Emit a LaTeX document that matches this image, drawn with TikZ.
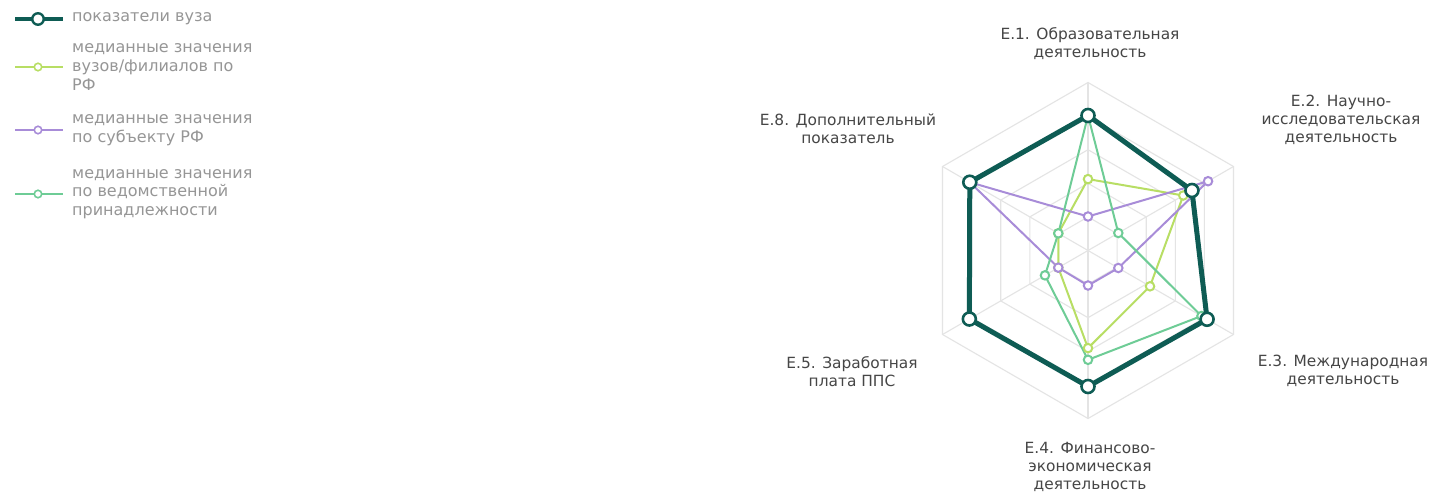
\documentclass[tikz,border=0pt]{standalone}
\usepackage{fontspec}
\setmainfont{DejaVu Sans}
\definecolor{cdark}{RGB}{14,92,84}
\definecolor{clg}{RGB}{184,222,100}
\definecolor{cpur}{RGB}{168,140,216}
\definecolor{cmg}{RGB}{110,204,150}
\definecolor{cgrid}{RGB}{228,228,228}
\definecolor{clab}{RGB}{70,70,70}
\definecolor{cleg}{RGB}{150,150,150}
\tikzset{
  gridline/.style={draw=cgrid, line width=1.1pt},
  sdark/.style={draw=cdark, line width=5pt, line join=round},
  slg/.style={draw=clg, line width=2pt, line join=round},
  spur/.style={draw=cpur, line width=2pt, line join=round},
  smg/.style={draw=cmg, line width=2pt, line join=round},
  mdark/.style={circle, draw=cdark, fill=white, line width=2.6pt, minimum size=13pt, inner sep=0pt},
  mlg/.style={circle, draw=clg, fill=white, line width=2pt, minimum size=8.5pt, inner sep=0pt},
  mpur/.style={circle, draw=cpur, fill=white, line width=2pt, minimum size=8.5pt, inner sep=0pt},
  mmg/.style={circle, draw=cmg, fill=white, line width=2pt, minimum size=8.5pt, inner sep=0pt},
  lmdark/.style={circle, draw=cdark, fill=white, line width=2.4pt, minimum size=11.5pt, inner sep=0pt},
  lmsmall/.style={circle, fill=white, line width=1.6pt, minimum size=7.5pt, inner sep=0pt},
  axlabel/.style={align=center, text=clab, font=\fontsize{15.4}{18}\selectfont, inner sep=0pt},
  leglabel/.style={align=left, text=cleg, font=\fontsize{16}{18.8}\selectfont, inner sep=0pt, anchor=west},
}
\begin{document}
\begin{tikzpicture}[x=1pt,y=1pt]
\useasboundingbox (0,0) rectangle (1434,496);
\fill[white] (0,0) rectangle (1434,496);
% legend
\coordinate (l1a) at (15,477); \coordinate (l1b) at (63,477);
\draw[draw=cdark, line width=4pt] (l1a) -- (l1b);
\node[lmdark] (l1m) at (38,477) {};
\node[leglabel] (l1t) at (72,477) {показатели вуза};
\coordinate (l2a) at (15,429); \coordinate (l2b) at (63,429);
\draw[draw=clg, line width=2pt] (l2a) -- (l2b);
\node[lmsmall, draw=clg] (l2m) at (38,429) {};
\node[leglabel] (l2t) at (72,429) {медианные значения\\вузов/филиалов по\\РФ};
\coordinate (l3a) at (15,366); \coordinate (l3b) at (63,366);
\draw[draw=cpur, line width=2pt] (l3a) -- (l3b);
\node[lmsmall, draw=cpur] (l3m) at (38,366) {};
\node[leglabel] (l3t) at (72,366) {медианные значения\\по субъекту РФ};
\coordinate (l4a) at (15,302); \coordinate (l4b) at (63,302);
\draw[draw=cmg, line width=2pt] (l4a) -- (l4b);
\node[lmsmall, draw=cmg] (l4m) at (38,302) {};
\node[leglabel] (l4t) at (72,302) {медианные значения\\по ведомственной\\принадлежности};
% radar
\begin{scope}[shift={(1088,245.5)}]
\foreach \k in {1,...,5}{
  \pgfmathsetmacro\r{33.6*\k}
  \draw[gridline] (90:\r) -- (30:\r) -- (-30:\r) -- (-90:\r) -- (-150:\r) -- (150:\r) -- cycle;
}
\foreach \a in {90,30,-30,-90,-150,150} \draw[gridline] (0,0) -- (\a:168);
% light green
\foreach \a/\r [count=\i] in {90/71.4,30/110,-30/71.6,-90/97.6,-150/34.3,150/34.3}
  \coordinate (g\i) at (\a:\r);
\draw[slg] (g1) -- (g2) -- (g3) -- (g4) -- (g5) -- (g6) -- cycle;
% purple
\foreach \a/\r [count=\i] in {90/34,30/138.6,-30/35,-90/35,-150/34.3,150/136.5}
  \coordinate (p\i) at (\a:\r);
\draw[spur] (p1) -- (p2) -- (p3) -- (p4) -- (p5) -- (p6) -- cycle;
% medium green
\foreach \a/\r [count=\i] in {90/135,30/35,-30/131,-90/109.3,-150/49.7,150/34.3}
  \coordinate (m\i) at (\a:\r);
\draw[smg] (m1) -- (m2) -- (m3) -- (m4) -- (m5) -- (m6) -- cycle;
% markers of thin series
\foreach \i in {1,...,6} \node[mlg] (gm\i) at (g\i) {};
\foreach \i in {1,...,6} \node[mpur] (pm\i) at (p\i) {};
\foreach \i in {1,...,6} \node[mmg] (mm\i) at (m\i) {};
% dark
\foreach \a/\r [count=\i] in {90/135,30/120,-30/137.5,-90/136,-150/137,150/136.5}
  \coordinate (d\i) at (\a:\r);
\draw[sdark] (d1) -- (d2) -- (d3) -- (d4) -- (d5) -- (d6) -- cycle;
\foreach \i in {1,...,6} \node[mdark] (dm\i) at (d\i) {};
\end{scope}
% axis labels
\node[axlabel] (e1) at (1090,452) {Е.1. Образовательная\\деятельность};
\node[axlabel] (e2) at (1341,376) {Е.2. Научно-\\исследовательская\\деятельность};
\node[axlabel] (e3) at (1343,125) {Е.3. Международная\\деятельность};
\node[axlabel] (e4) at (1090,29) {Е.4. Финансово-\\экономическая\\деятельность};
\node[axlabel] (e5) at (852,124) {Е.5. Заработная\\плата ППС};
\node[axlabel] (e8) at (848,367) {Е.8. Дополнительный\\показатель};
\end{tikzpicture}
\end{document}
